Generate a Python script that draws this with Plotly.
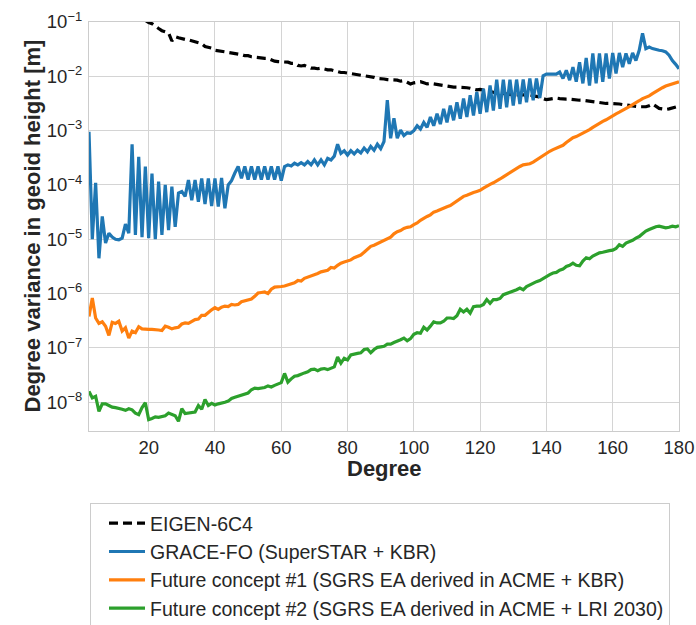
import plotly.graph_objects as go

# Spherical harmonic degrees
degrees = list(range(2, 181))
eigen_degrees = list(range(19, 181))

# log10 of degree variance in geoid height [m]
eigen_log10 = [
    -0.97, -1.01, -1.03, -1.08, -1.12, -1.16, -1.18, -1.20, -1.35, -1.27,   # 19-28
    -1.29, -1.31, -1.32, -1.33, -1.35, -1.36, -1.38, -1.40, -1.45, -1.46,   # 29-38
    -1.48, -1.52, -1.53, -1.53, -1.55, -1.55, -1.56, -1.58, -1.59, -1.60,   # 39-48
    -1.62, -1.62, -1.64, -1.65, -1.65, -1.66, -1.67, -1.67, -1.70, -1.72,   # 49-58
    -1.73, -1.73, -1.74, -1.74, -1.76, -1.76, -1.80, -1.81, -1.80, -1.83,   # 59-68
    -1.85, -1.85, -1.86, -1.85, -1.87, -1.88, -1.88, -1.90, -1.92, -1.93,   # 69-78
    -1.93, -1.94, -1.94, -1.95, -1.96, -1.97, -1.98, -1.99, -2.00, -2.02,   # 79-88
    -2.04, -2.04, -2.05, -2.06, -2.06, -2.07, -2.07, -2.09, -2.08, -2.11,   # 89-98
    -2.14, -2.12, -2.11, -2.10, -2.12, -2.14, -2.13, -2.14, -2.15, -2.16,   # 99-108
    -2.17, -2.19, -2.19, -2.20, -2.20, -2.20, -2.21, -2.21, -2.22, -2.24,   # 109-118
    -2.25, -2.24, -2.26, -2.27, -2.28, -2.30, -2.31, -2.31, -2.32, -2.33,   # 119-128
    -2.33, -2.34, -2.34, -2.34, -2.35, -2.35, -2.34, -2.36, -2.37, -2.38,   # 129-138
    -2.41, -2.43, -2.42, -2.41, -2.40, -2.41, -2.42, -2.42, -2.42, -2.43,   # 139-148
    -2.44, -2.44, -2.44, -2.45, -2.46, -2.46, -2.47, -2.48, -2.49, -2.50,   # 149-158
    -2.50, -2.50, -2.51, -2.51, -2.52, -2.53, -2.54, -2.55, -2.55, -2.56,   # 159-168
    -2.56, -2.56, -2.54, -2.51, -2.55, -2.59, -2.60, -2.61, -2.60, -2.58,   # 169-178
    -2.56, -2.55,                                                             # 179-180
]

grace_log10 = [
    -3.02, -5.00, -3.96, -5.35, -4.58, -5.07, -4.89, -4.96, -5.00, -5.01,   # 2-11
    -4.98, -4.72, -4.89, -3.25, -4.92, -3.48, -4.96, -3.66, -4.98, -3.79,   # 12-21
    -5.00, -3.94, -4.92, -4.00, -4.83, -4.03, -4.77, -4.15, -4.12, -4.21,   # 22-31
    -3.91, -4.28, -3.91, -4.31, -3.88, -4.35, -3.88, -4.39, -3.88, -4.40,   # 32-41
    -3.87, -4.43, -4.00, -3.92, -3.78, -3.66, -3.88, -3.66, -3.90, -3.66,   # 42-51
    -3.90, -3.66, -3.90, -3.66, -3.90, -3.66, -3.90, -3.66, -3.92, -3.66,   # 52-61
    -3.63, -3.65, -3.60, -3.63, -3.59, -3.63, -3.57, -3.63, -3.54, -3.63,   # 62-71
    -3.54, -3.63, -3.51, -3.54, -3.47, -3.25, -3.42, -3.37, -3.45, -3.37,   # 72-81
    -3.43, -3.36, -3.41, -3.32, -3.39, -3.29, -3.36, -3.25, -3.33, -3.20,   # 82-91
    -2.44, -3.14, -2.77, -3.14, -2.99, -3.09, -3.04, -3.05, -3.00, -2.91,   # 92-101
    -2.97, -2.85, -2.94, -2.75, -2.91, -2.69, -2.88, -2.60, -2.85, -2.54,   # 102-111
    -2.81, -2.48, -2.78, -2.41, -2.75, -2.35, -2.72, -2.29, -2.69, -2.23,   # 112-121
    -2.66, -2.17, -2.63, -2.06, -2.60, -2.06, -2.57, -2.06, -2.54, -2.06,   # 122-131
    -2.51, -2.06, -2.48, -2.04, -2.44, -2.04, -2.40, -1.99, -1.96, -1.96,   # 132-141
    -1.95, -1.96, -1.92, -2.04, -1.89, -2.07, -1.83, -2.10, -1.74, -2.13,   # 142-151
    -1.66, -2.17, -1.58, -2.13, -1.58, -2.10, -1.58, -2.04, -1.57, -1.95,   # 152-161
    -1.57, -1.83, -1.58, -1.77, -1.57, -1.71, -1.52, -1.21, -1.49, -1.46,   # 162-171
    -1.49, -1.51, -1.52, -1.53, -1.55, -1.61, -1.71, -1.78, -1.86,          # 172-180
]

concept1_log10 = [
    -6.42, -6.08, -6.45, -6.55, -6.52, -6.60, -6.77, -6.53, -6.55, -6.51,   # 2-11
    -6.69, -6.63, -6.82, -6.69, -6.72, -6.61, -6.65, -6.66, -6.66, -6.66,   # 12-21
    -6.66, -6.67, -6.68, -6.60, -6.62, -6.65, -6.63, -6.62, -6.56, -6.54,   # 22-31
    -6.55, -6.52, -6.48, -6.47, -6.40, -6.40, -6.34, -6.30, -6.26, -6.29,   # 32-41
    -6.25, -6.23, -6.24, -6.20, -6.21, -6.20, -6.15, -6.13, -6.12, -6.10,   # 42-51
    -6.05, -5.99, -5.98, -5.97, -6.00, -5.92, -5.88, -5.88, -5.87, -5.86,   # 52-61
    -5.84, -5.81, -5.80, -5.76, -5.77, -5.72, -5.70, -5.68, -5.65, -5.63,   # 62-71
    -5.60, -5.58, -5.57, -5.52, -5.53, -5.48, -5.44, -5.42, -5.40, -5.38,   # 72-81
    -5.34, -5.32, -5.29, -5.24, -5.19, -5.13, -5.11, -5.08, -5.05, -5.02,   # 82-91
    -4.98, -4.96, -4.90, -4.86, -4.84, -4.80, -4.78, -4.77, -4.73, -4.70,   # 92-101
    -4.65, -4.61, -4.58, -4.55, -4.50, -4.48, -4.45, -4.42, -4.40, -4.38,   # 102-111
    -4.34, -4.30, -4.26, -4.21, -4.19, -4.16, -4.14, -4.12, -4.10, -4.06,   # 112-121
    -4.02, -3.99, -3.96, -3.93, -3.89, -3.85, -3.81, -3.78, -3.74, -3.70,   # 122-131
    -3.66, -3.63, -3.62, -3.61, -3.58, -3.54, -3.49, -3.45, -3.41, -3.38,   # 132-141
    -3.35, -3.32, -3.29, -3.27, -3.22, -3.18, -3.13, -3.11, -3.08, -3.05,   # 142-151
    -3.01, -2.98, -2.94, -2.90, -2.86, -2.83, -2.80, -2.76, -2.72, -2.69,   # 152-161
    -2.66, -2.63, -2.59, -2.56, -2.52, -2.49, -2.45, -2.41, -2.39, -2.36,   # 162-171
    -2.32, -2.28, -2.25, -2.21, -2.18, -2.16, -2.14, -2.12, -2.10,          # 172-180
]

concept2_log10 = [
    -7.80, -7.92, -7.89, -8.17, -8.03, -8.03, -8.06, -8.09, -8.10, -8.11,   # 2-11
    -8.13, -8.15, -8.12, -8.14, -8.20, -8.23, -8.10, -8.01, -8.32, -8.30,   # 12-21
    -8.27, -8.28, -8.27, -8.25, -8.20, -8.22, -8.25, -8.35, -8.12, -8.21,   # 22-31
    -8.20, -8.20, -8.18, -8.06, -8.13, -7.95, -8.06, -8.02, -8.05, -8.03,   # 32-41
    -8.02, -8.00, -7.98, -7.93, -7.91, -7.89, -7.88, -7.85, -7.83, -7.77,   # 42-51
    -7.74, -7.75, -7.74, -7.73, -7.70, -7.72, -7.69, -7.67, -7.64, -7.47,   # 52-61
    -7.63, -7.57, -7.52, -7.51, -7.48, -7.46, -7.44, -7.40, -7.39, -7.42,   # 62-71
    -7.39, -7.38, -7.40, -7.38, -7.35, -7.17, -7.28, -7.19, -7.22, -7.13,   # 72-81
    -7.11, -7.10, -7.09, -7.03, -7.02, -7.09, -7.03, -6.99, -6.98, -6.97,   # 82-91
    -6.93, -6.93, -6.90, -6.88, -6.85, -6.82, -6.87, -6.83, -6.75, -6.72,   # 92-101
    -6.73, -6.62, -6.67, -6.60, -6.52, -6.54, -6.54, -6.51, -6.45, -6.45,   # 102-111
    -6.46, -6.41, -6.29, -6.34, -6.29, -6.36, -6.24, -6.23, -6.23, -6.20,   # 112-121
    -6.11, -6.18, -6.11, -6.11, -6.09, -6.02, -6.00, -5.98, -5.95, -5.93,   # 122-131
    -5.90, -5.93, -5.87, -5.84, -5.80, -5.78, -5.76, -5.72, -5.68, -5.65,   # 132-141
    -5.62, -5.61, -5.57, -5.55, -5.50, -5.48, -5.44, -5.48, -5.49, -5.40,   # 142-151
    -5.34, -5.36, -5.31, -5.28, -5.25, -5.24, -5.22, -5.21, -5.20, -5.17,   # 152-161
    -5.10, -5.13, -5.07, -5.05, -5.02, -4.98, -4.95, -4.90, -4.85, -4.82,   # 162-171
    -4.79, -4.77, -4.76, -4.77, -4.79, -4.78, -4.76, -4.77, -4.75,          # 172-180
]

series_names = [
    "EIGEN-6C4",
    "GRACE-FO (SuperSTAR + KBR)",
    "Future concept #1 (SGRS EA derived in ACME + KBR)",
    "Future concept #2 (SGRS EA derived in ACME + LRI 2030)",
]
series_colors = ["#000000", "#1f77b4", "#ff7f0e", "#2ca02c"]

x_title = "Degree"
y_title = "Degree variance in geoid height [m]"

y_tick_exponents = [-8, -7, -6, -5, -4, -3, -2, -1]
x_tick_values = [20, 40, 60, 80, 100, 120, 140, 160, 180]

FONT = "Liberation Sans, Arial, sans-serif"
TXT = "#262626"
GRID = "#d4d4d4"


def pow10(vals):
    return [10 ** v for v in vals]


fig = go.Figure()
fig.add_trace(go.Scatter(x=eigen_degrees, y=pow10(eigen_log10), mode="lines",
                         name=series_names[0],
                         line=dict(color=series_colors[0], width=3.2, dash="9px,5px")))
fig.add_trace(go.Scatter(x=degrees, y=pow10(grace_log10), mode="lines",
                         name=series_names[1],
                         line=dict(color=series_colors[1], width=3.2)))
fig.add_trace(go.Scatter(x=degrees, y=pow10(concept1_log10), mode="lines",
                         name=series_names[2],
                         line=dict(color=series_colors[2], width=3.2)))
fig.add_trace(go.Scatter(x=degrees, y=pow10(concept2_log10), mode="lines",
                         name=series_names[3],
                         line=dict(color=series_colors[3], width=3.2)))

fig.update_layout(
    width=696, height=625,
    margin=dict(l=89, r=17, t=22, b=194, autoexpand=False),
    paper_bgcolor="white", plot_bgcolor="white",
    font=dict(family=FONT, color=TXT),
    showlegend=True,
    legend=dict(
        x=0.0017, y=-0.176, xanchor="left", yanchor="top",
        bgcolor="white", bordercolor="#cccccc", borderwidth=1,
        font=dict(size=19.5, family=FONT, color=TXT),
        indentation=13, itemwidth=36,
    ),
    annotations=[
        dict(text="<b>%s</b>" % x_title, xref="paper", yref="paper",
             x=0.5, y=0, xanchor="center", yanchor="middle", yshift=-37,
             showarrow=False, font=dict(size=22, family=FONT, color=TXT)),
        dict(text="<b>%s</b>" % y_title, xref="paper", yref="paper",
             x=0, y=0.5, xanchor="center", yanchor="middle", xshift=-57,
             textangle=-90,
             showarrow=False, font=dict(size=22, family=FONT, color=TXT)),
    ],
)

fig.update_xaxes(
    range=[2, 180], tickvals=x_tick_values, automargin=False,
    showgrid=True, gridcolor=GRID, gridwidth=1.2,
    showline=True, mirror=True, linecolor="#cccccc", linewidth=1.3,
    zeroline=False,
    ticks="", ticklen=0,
    tickfont=dict(size=18.5, family=FONT, color=TXT),
)
fig.update_yaxes(
    type="log", range=[-8.53, -1], automargin=False,
    tickvals=[10 ** e for e in y_tick_exponents],
    ticktext=["10<sup>\u2212%d</sup>" % (-e) for e in y_tick_exponents],
    showgrid=True, gridcolor=GRID, gridwidth=1.2,
    showline=True, mirror=True, linecolor="#cccccc", linewidth=1.3,
    zeroline=False,
    ticks="outside", ticklen=2, tickcolor="rgba(0,0,0,0)",
    tickfont=dict(size=18.5, family=FONT, color=TXT),
)

fig.write_html("out.html")
